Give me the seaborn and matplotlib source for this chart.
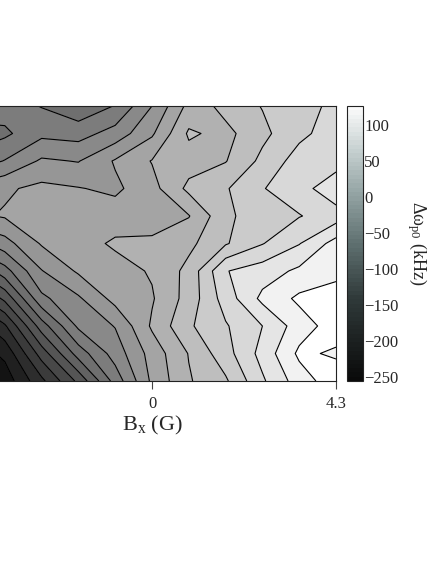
import matplotlib

matplotlib.use("Agg")
import matplotlib.pyplot as plt
import numpy as np
import seaborn as sns
from matplotlib.cm import ScalarMappable
from matplotlib.colors import LinearSegmentedColormap, Normalize

# Grid of the field (G); the left part of the axis is cut off in the original figure.
bx = [-4.3, -3.44, -2.58, -1.72, -0.86, 0.0, 0.86, 1.72, 2.58, 3.44, 4.3]
bz = [4.3, 3.44, 2.58, 1.72, 0.86, 0.0, -0.86, -1.72, -2.58, -3.44, -4.3]

# Frequency shift (kHz), one list per row from top to bottom.
row0 = [-85, -90, -101, -115, -99, -60, -14, 7, 21, 32, 45]
row1 = [-110, -104, -85, -88, -72, -43, 3, -6, 15, 35, 50]
row2 = [-95, -79, -57, -61, -38, -19, -9, -1, 25, 49, 50]
row3 = [-55, -43, -35, -39, -44, -27, 5, 18, 39, 51, 75]
row4 = [-45, -38, -30, -30, -30, -25, -21, 15, 33, 39, 50]
row5 = [-95, -68, -38, -28, -17, -18, -5, 18, 39, 59, 88]
row6 = [-150, -108, -61, -37, -28, -18, 6, 59, 70, 84, 95]
row7 = [-200, -155, -85, -63, -33, -22, 8, 49, 85, 104, 108]
row8 = [-240, -203, -130, -76, -59, -17, 17, 38, 60, 90, 110]
row9 = [-256, -235, -171, -111, -71, -32, 1, 32, 67, 104, 97]
row10 = [-256, -252, -205, -155, -92, -36, -2, 17, 57, 90, 112]

levels = list(range(-260, 141, 20))
cbar_ticks = [-250, -200, -150, -100, -50, 0, 50, 100]
vmin, vmax = -256, 126

sns.set_style("ticks")
plt.rcParams["font.family"] = ["Liberation Serif", "DejaVu Serif"]
plt.rcParams["mathtext.fontset"] = "custom"
plt.rcParams["mathtext.rm"] = "Liberation Serif"
plt.rcParams["mathtext.it"] = "Liberation Serif:italic"
plt.rcParams["contour.negative_linestyle"] = "solid"

z = np.array([row0, row1, row2, row3, row4, row5, row6, row7, row8, row9, row10])
X, Y = np.meshgrid(bx, bz)

fig = plt.figure(figsize=(4.42, 5.71), dpi=100)
W, H = 442, 571
ax = fig.add_axes([-32 / W, 1 - 381 / H, 368 / W, 275 / H])

# filled bands in plain grey, a little lighter than the bar's scale
fill_cmap = sns.color_palette("gray", as_cmap=True)
ax.contourf(X, Y, z, levels=levels, cmap=fill_cmap, norm=Normalize(-280, 110))
ax.contour(X, Y, z, levels=levels, colors="k", linewidths=0.8, linestyles="solid")

ax.set_xlim(-4.3, 4.3)
ax.set_ylim(-4.3, 4.3)
ax.set_xticks([-4.3, 0, 4.3])
ax.set_xticklabels(["", "0", "4.3"])
ax.set_yticks([])
ax.tick_params(axis="x", direction="out", length=6, width=0.8, pad=5, labelsize=12, color="#444444")
ax.set_xlabel(r"B$_{\mathrm{x}}$ (G)", fontsize=16, labelpad=1)
for s in ax.spines.values():
    s.set_color("#222222")
    s.set_linewidth(0.8)

# Colour bar: grey with a slight cyan tint, in fine steps.
tint = LinearSegmentedColormap.from_list(
    "tint",
    [(0.0, "#0a0a0a"), (0.3, "#303a3a"), (0.5, "#5f7070"),
     (0.7, "#98a8a8"), (0.85, "#c8d2d2"), (1.0, "#fafafa")],
    N=64,
)
cax = fig.add_axes([347 / W, 1 - 381 / H, 16 / W, 275 / H])
cb = fig.colorbar(ScalarMappable(norm=Normalize(vmin, vmax), cmap=tint), cax=cax, ticks=cbar_ticks)
cb.ax.tick_params(direction="in", length=3, width=0.6, pad=1, labelsize=12)
cb.outline.set_linewidth(0.8)
cb.outline.set_edgecolor("#222222")
cb.set_label(r"Δω$_{\mathrm{p0}}$ (kHz)", rotation=270, fontsize=13, labelpad=22)

fig.savefig("out.png", dpi=100)
